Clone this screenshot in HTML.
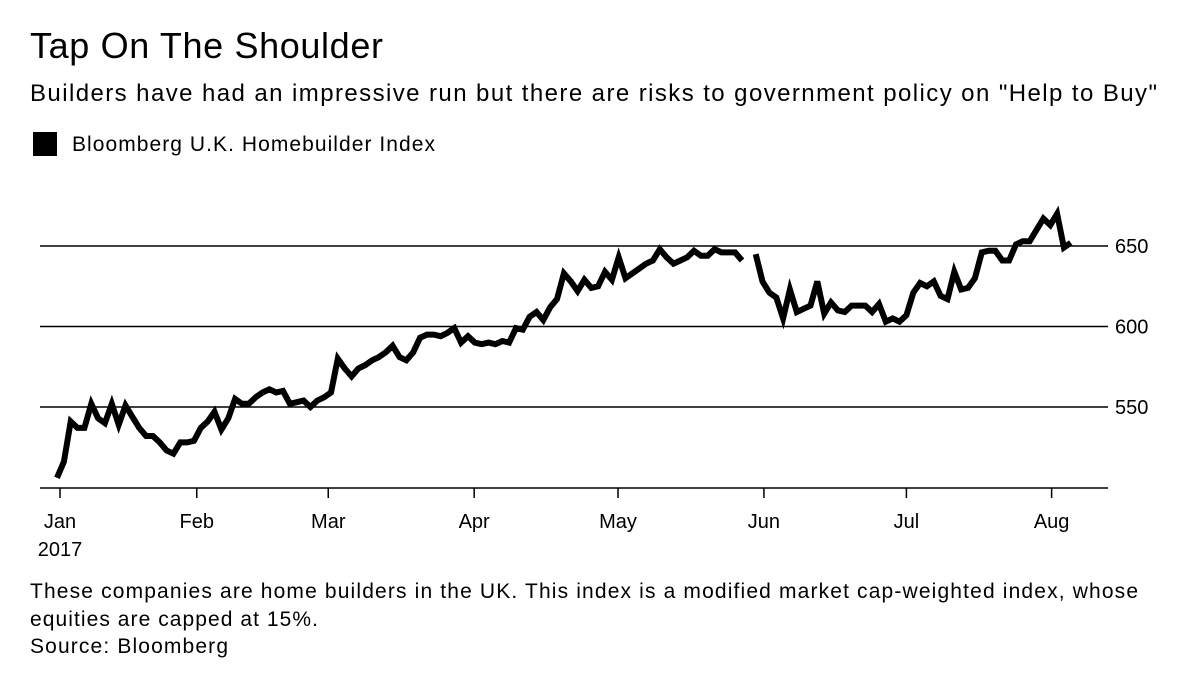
<!DOCTYPE html>
<html><head><meta charset="utf-8"><style>
body{margin:0;background:#fff;font-family:"Liberation Sans",sans-serif;}
svg text{font-family:"Liberation Sans",sans-serif;fill:#000;}
</style></head><body>
<svg width="1200" height="679">
<text x="30" y="58" font-size="36" textLength="353">Tap On The Shoulder</text>
<text x="30" y="101" font-size="24" textLength="1127">Builders have had an impressive run but there are risks to government policy on "Help to Buy"</text>
<rect x="33" y="132" width="24" height="24" fill="#000"/>
<text x="72" y="151" font-size="21" textLength="363">Bloomberg U.K. Homebuilder Index</text>
<g id="grid"></g><g id="xaxis"></g>
<path id="line" fill="none" stroke="#000" stroke-width="6" stroke-linejoin="miter"/>
<text x="30" y="598" font-size="21" textLength="1108">These companies are home builders in the UK. This index is a modified market cap-weighted index, whose</text>
<text x="30" y="626" font-size="21" textLength="288">equities are capped at 15%.</text>
<text x="30" y="653" font-size="21" textLength="198">Source: Bloomberg</text>
</svg>
<script>
const values=[506,516,541,537,537,552,543,540,552,539,551,544,537,532,532,528,523,521,528,528,529,537,541,547,536,543,555,552,552,556,559,561,559,560,552,553,554,550,554,556,559,580,574,569,574,576,579,581,584,588,581,579,584,593,595,595,594,596,599,590,594,590,589,590,589,591,590,599,598,606,609,604,612,617,633,628,622,629,624,625,634,629,643,630,633,636,639,641,648,643,639,641,643,647,644,644,648,646,646,646,641,null,645,628,621,618,605,623,609,611,613,628,608,615,610,609,613,613,613,609,614,603,605,603,607,621,627,625,628,619,617,634,623,624,630,646,647,647,641,641,651,653,653,660,667,663,670,649,652];
const yTicks=[550,600,650];
const months=["Jan","Feb","Mar","Apr","May","Jun","Jul","Aug"];
const monthIndex=[0.44,20.4,39.6,60.9,81.9,103.2,124.0,145.2];
const x0=57,x1=1078;
const step=6.85;
const sx=i=>x0+i*step;
const sy=v=>246+(650-v)*80.5/50;
const NS="http://www.w3.org/2000/svg";
const grid=document.getElementById('grid'),xa=document.getElementById('xaxis');
function mk(p,tag,attrs){const e=document.createElementNS(NS,tag);for(const k in attrs)e.setAttribute(k,attrs[k]);p.appendChild(e);return e;}
yTicks.forEach(t=>{
 const l=mk(grid,'line',{x1:40,x2:1108,y1:sy(t),y2:sy(t),stroke:'#000','stroke-width':1.5});
 
 
 const tx=mk(grid,'text',{x:1115,y:sy(t)+7,'font-size':20});tx.textContent=t;
 
 
});
const ax=mk(xa,'line',{x1:40,x2:1108,y1:488,y2:488,stroke:'#000','stroke-width':1.5});


months.forEach((m,i)=>{
 const x=sx(monthIndex[i]);
 const t=mk(xa,'line',{x1:x,x2:x,y1:488,y2:498,stroke:'#000','stroke-width':1.5});
 
 
 const tx=mk(xa,'text',{x:x,y:528,'font-size':20,'text-anchor':'middle'});tx.textContent=m;
 
 
});
const yr=mk(xa,'text',{x:sx(monthIndex[0]),y:556,'font-size':20,'text-anchor':'middle'});yr.textContent='2017';


let d='',pen=false;
values.forEach((v,i)=>{if(v==null){pen=false;return;}d+=(pen?'L':'M')+sx(i).toFixed(1)+','+sy(v).toFixed(1);pen=true;});
document.getElementById('line').setAttribute('d',d);
</script>
</body></html>
